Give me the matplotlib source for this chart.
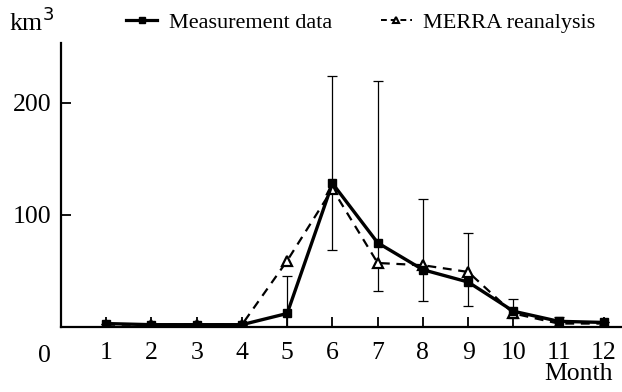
import numpy as np
import matplotlib.pyplot as plt
from matplotlib.lines import Line2D

plt.rcParams['font.family'] = ['Liberation Serif', 'DejaVu Serif']

months = np.arange(1, 13)
measured = [3, 2, 2, 2, 12, 128, 75, 51, 40, 14, 5, 4]
merra = [2, 2, 2, 2, 59, 123, 57, 55, 49, 12, 3, 3]
err_low = [0, 0, 0, 0, 12, 59, 43, 28, 21, 6, 5, 0]
err_high = [0, 0, 0, 0, 33, 96, 144, 63, 44, 11, 4, 0]

fs = 18.5
fig = plt.figure(figsize=(6.22, 3.92), dpi=100)
ax = fig.add_axes([0.098, 0.166, 0.902, 0.724])

ax.errorbar(months, measured, yerr=[err_low, err_high], fmt='none',
            ecolor='black', elinewidth=0.9, capsize=3.5, capthick=0.9, zorder=1)
ax.plot(months, merra, color='black', linestyle=(0, (4, 3)), linewidth=1.6,
        marker='^', markersize=6.5, markerfacecolor='white',
        markeredgecolor='black', markeredgewidth=1.6, zorder=2)
ax.plot(months, measured, color='black', linewidth=2.4,
        marker='s', markersize=5.5, zorder=3)

ax.set_xlim(0, 12.4)
ax.set_ylim(0, 253)
ax.set_xticks(months)
ax.set_yticks([100, 200])
ax.tick_params(direction='in', length=7, width=1.3, labelsize=fs, pad=11)
ax.tick_params(axis='y', pad=7)
for s in ['top', 'right']:
    ax.spines[s].set_visible(False)
for s in ['left', 'bottom']:
    ax.spines[s].set_linewidth(1.6)

ax.annotate('0', xy=(0, 0), xycoords='data', xytext=(-12, -21),
            textcoords='offset points', fontsize=fs, ha='center', va='center')
fig.text(0.93, 0.045, 'Month', fontsize=fs, ha='center', va='center')
fig.text(0.014, 0.945, 'km$^3$', fontsize=fs, ha='left', va='center')

h1 = Line2D([], [], color='black', linewidth=2.3, marker='s', markersize=4)
h2 = Line2D([], [], color='black', linestyle=(0, (3, 2)), linewidth=1.4,
            marker='^', markersize=5, markerfacecolor='white', markeredgewidth=1.5)
fig.legend([h1, h2], ['Measurement data', 'MERRA reanalysis'], loc='center',
           bbox_to_anchor=(0.58, 0.942), ncol=2, frameon=False, fontsize=16,
           handlelength=1.4, columnspacing=2.2, handletextpad=0.5)

fig.savefig('out.png', dpi=100)
